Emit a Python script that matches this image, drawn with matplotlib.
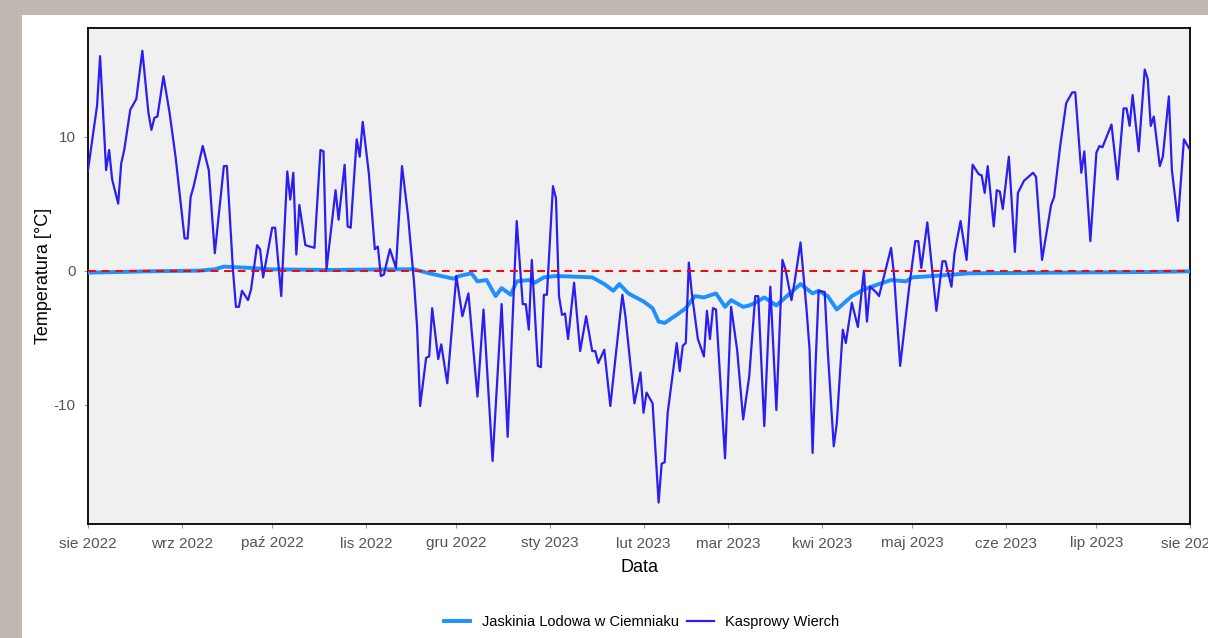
import matplotlib
matplotlib.use("Agg")
import matplotlib.pyplot as plt
from matplotlib.patches import Rectangle
import pandas as pd

# days since 2022-08-01 and daily mean temperature
kw_day = [0, 3, 4, 6, 7, 8, 10, 11, 12, 14, 16, 18, 20, 21, 22, 23, 25, 27, 29, 32, 33, 34, 35, 38, 40, 42,
          45, 46, 48, 49, 50, 51, 53, 54, 56, 57, 58, 61, 62, 64, 66, 67, 68, 69, 70, 72, 75, 77, 78, 79,
          82, 83, 85, 86, 87, 89, 90, 91, 93, 95, 96, 97, 98, 100, 102, 104, 106, 108, 109, 110, 112, 113,
          114, 116, 117, 119, 122, 124, 126, 129, 131, 134, 137, 139, 142, 144, 145, 146, 147, 149, 150,
          151, 152, 154, 155, 156, 157, 158, 159, 161, 163, 165, 167, 168, 169, 171, 173, 175, 177, 178,
          181, 183, 184, 185, 187, 189, 190, 191, 192, 195, 196, 197, 198, 199, 200, 202, 204, 205, 206,
          207, 208, 211, 213, 215, 217, 219, 221, 222, 224, 226, 228, 230, 231, 233, 234, 236, 238, 239,
          240, 241, 242, 244, 245, 247, 248, 250, 251, 253, 255, 257, 258, 259, 261, 262, 266, 267, 269,
          272, 274, 275, 276, 278, 281, 283, 284, 286, 287, 289, 291, 293, 295, 296, 297, 298, 300, 301,
          302, 303, 305, 307, 308, 310, 313, 314, 316, 319, 320, 322, 324, 326, 327, 329, 330, 332, 334,
          335, 336, 339, 341, 343, 344, 345, 346, 348, 350, 351, 352, 353, 355, 356, 358, 359, 361, 362,
          363, 365]
kw_temp = [7.5, 12.3, 16.0, 7.5, 9.0, 6.8, 5.0, 8.0, 9.0, 12.0, 12.8, 16.4, 11.8, 10.5, 11.4, 11.5, 14.5,
           11.8, 8.5, 2.4, 2.4, 5.5, 6.3, 9.3, 7.5, 1.3, 7.8, 7.8, 0.1, -2.7, -2.7, -1.5, -2.2, -1.4, 1.9,
           1.6, -0.5, 3.2, 3.2, -1.9, 7.4, 5.3, 7.3, 1.2, 4.9, 1.9, 1.7, 9.0, 8.9, 0.1, 6.0, 3.8, 7.9, 3.3,
           3.2, 9.8, 8.5, 11.1, 7.3, 1.6, 1.8, -0.4, -0.3, 1.6, 0.2, 7.8, 4.1, -0.9, -4.2, -10.1, -6.5,
           -6.4, -2.8, -6.6, -5.5, -8.4, -0.4, -3.4, -1.7, -9.4, -2.9, -14.2, -2.5, -12.4, 3.7, -2.5, -2.5,
           -4.4, 0.8, -7.1, -7.2, -1.8, -1.8, 6.3, 5.4, -1.9, -3.3, -3.2, -5.1, -0.9, -6.0, -3.4, -6.0,
           -6.0, -6.9, -5.9, -10.1, -5.9, -1.8, -3.4, -9.9, -7.6, -10.6, -9.1, -9.9, -17.3, -14.4, -14.3,
           -10.6, -5.4, -7.5, -5.6, -5.4, 0.6, -1.7, -5.1, -6.4, -3.0, -5.1, -2.8, -2.9, -14.0, -2.7, -5.9,
           -11.1, -7.9, -1.9, -1.9, -11.6, -1.2, -10.4, 0.8, 0.1, -2.2, -0.9, 2.1, -2.9, -5.9, -13.6, -6.9,
           -1.5, -1.6, -5.9, -13.1, -11.4, -4.4, -5.4, -2.4, -4.2, 0.0, -3.8, -1.2, -1.6, -1.9, 1.7, -0.4,
           -7.1, -1.2, 2.2, 2.2, 0.2, 3.6, -3.0, 0.7, 0.7, -1.2, 1.3, 3.7, 0.8, 7.9, 7.2, 7.1, 5.8, 7.8,
           3.3, 6.0, 5.9, 4.6, 8.5, 1.4, 5.8, 6.7, 7.3, 7.0, 0.8, 4.9, 5.5, 9.3, 12.5, 13.3, 13.3, 7.3,
           8.9, 2.2, 8.8, 9.3, 9.2, 10.9, 6.8, 12.1, 12.1, 10.8, 13.1, 8.9, 15.0, 14.3, 10.8, 11.5, 7.8,
           8.5, 13.0, 7.5, 3.7, 6.8, 9.8, 9.0]

jl_day = [0, 20, 37, 42, 45, 54, 60, 80, 103, 108, 113, 121, 123, 127, 129, 132, 135, 137, 140, 142,
          146, 148, 151, 155, 161, 167, 171, 174, 176, 179, 184, 187, 189, 191, 195, 198, 201, 204, 208,
          211, 213, 217, 219, 221, 224, 228, 232, 236, 240, 242, 245, 248, 253, 257, 262, 266, 271, 273,
          280, 286, 292, 319, 352, 365]
jl_temp = [-0.15, -0.05, 0.0, 0.1, 0.3, 0.2, 0.1, 0.05, 0.1, 0.1, -0.2, -0.6, -0.4, -0.2, -0.8, -0.7,
           -1.9, -1.3, -1.8, -0.8, -0.7, -0.9, -0.5, -0.4, -0.45, -0.5, -1.0, -1.5, -1.0, -1.7, -2.3, -2.8,
           -3.8, -3.9, -3.3, -2.8, -1.9, -2.0, -1.7, -2.7, -2.2, -2.7, -2.6, -2.4, -2.0, -2.6, -1.8, -1.0,
           -1.7, -1.5, -1.9, -2.9, -1.9, -1.4, -1.0, -0.7, -0.8, -0.5, -0.4, -0.3, -0.2, -0.15, -0.1, -0.05]

month_starts = ["2022-08-01", "2022-09-01", "2022-10-01", "2022-11-01", "2022-12-01", "2023-01-01",
                "2023-02-01", "2023-03-01", "2023-04-01", "2023-05-01", "2023-06-01", "2023-07-01",
                "2023-08-01"]
month_labels = ["sie 2022", "wrz 2022", "paź 2022", "lis 2022", "gru 2022", "sty 2023", "lut 2023",
                "mar 2023", "kwi 2023", "maj 2023", "cze 2023", "lip 2023", "sie 2023"]

start = pd.Timestamp("2022-08-01")
kw_dates = start + pd.to_timedelta(kw_day, unit="D")
jl_dates = start + pd.to_timedelta(jl_day, unit="D")

plt.rcParams["font.family"] = ["Liberation Sans", "DejaVu Sans"]
plt.rcParams["axes.unicode_minus"] = False

fig = plt.figure(figsize=(12.08, 6.38), dpi=100)
fig.patch.set_facecolor("#c1b7b1")
fig.add_artist(Rectangle((22 / 1208, 0), 1 - 22 / 1208, 623 / 638, transform=fig.transFigure,
                         facecolor="white", edgecolor="none", zorder=-1))

ax = fig.add_axes([88 / 1208, 114 / 638, 1102 / 1208, 496 / 638])
ax.set_facecolor("#f0f0f0")

ax.plot(jl_dates, jl_temp, color="#1e90ff", lw=2.8, label="Jaskinia Lodowa w Ciemniaku", zorder=3,
        solid_joinstyle="round")
ax.plot(kw_dates, kw_temp, color="#2a1ff0", lw=1.6, label="Kasprowy Wierch", zorder=4)
ax.axhline(0, color="red", ls=(0, (4, 3)), lw=1.4, zorder=5)

ax.set_xlim(start, pd.Timestamp("2023-08-01"))
ax.set_ylim(-18.9, 18.1)
ax.set_xticks(pd.to_datetime(month_starts))
ax.set_xticklabels(month_labels)
ax.set_yticks([-10, 0, 10])
ax.tick_params(axis="both", colors="#9a9a9a", labelcolor="#555555", labelsize=11, length=3)
ax.tick_params(axis="x", pad=6)
ax.tick_params(axis="y", pad=6)

for s in ax.spines.values():
    s.set_color("black")
    s.set_linewidth(1.3)

ax.set_xlabel("Data", fontsize=13, labelpad=6)
ax.set_ylabel("Temperatura [°C]", fontsize=13, labelpad=1)

fig.legend(loc="center", bbox_to_anchor=(0.531, 0.025), ncol=2, frameon=False, fontsize=10.5,
           handlelength=1.8, columnspacing=0.6, handletextpad=0.8)

fig.savefig("out.png", dpi=100, facecolor=fig.get_facecolor())
